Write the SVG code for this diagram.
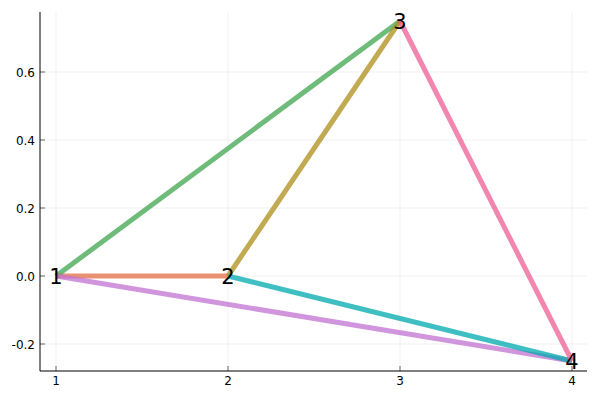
<svg xmlns="http://www.w3.org/2000/svg" width="600" height="400" viewBox="0 0 600 400">
<style>
.grid{stroke:#000;stroke-opacity:0.06;stroke-width:1}
.axis{stroke:#000;stroke-width:1;fill:none}
.tk{stroke:#000;stroke-opacity:0.6;stroke-width:1;fill:none}
.tick{font-family:"DejaVu Sans",sans-serif;font-size:12px;fill:#000}
.edge{stroke-width:5;stroke-opacity:0.75;fill:none}
.lbl{font-family:"DejaVu Sans",sans-serif;font-size:21px;fill:#000;text-anchor:middle;dominant-baseline:central}
</style>
<rect width="600" height="400" fill="#fff"/>
<g id="grid">
<line class="grid" x1="56" y1="12" x2="56" y2="371"/>
<line class="grid" x1="228" y1="12" x2="228" y2="371"/>
<line class="grid" x1="400" y1="12" x2="400" y2="371"/>
<line class="grid" x1="572" y1="12" x2="572" y2="371"/>
<line class="grid" x1="40" y1="344" x2="587" y2="344"/>
<line class="grid" x1="40" y1="276" x2="587" y2="276"/>
<line class="grid" x1="40" y1="208" x2="587" y2="208"/>
<line class="grid" x1="40" y1="140" x2="587" y2="140"/>
<line class="grid" x1="40" y1="72" x2="587" y2="72"/>
</g>
<g id="axes">
<path class="axis" d="M40 12 V371 H587"/>
<path class="tk" d="M56 371 v-5 M228 371 v-5 M400 371 v-5 M572 371 v-5 M40 344 h5 M40 276 h5 M40 208 h5 M40 140 h5 M40 72 h5"/>
<g class="tick" text-anchor="middle">
<text x="56" y="384.5">1</text>
<text x="228" y="384.5">2</text>
<text x="400" y="384.5">3</text>
<text x="572" y="384.5">4</text>
</g>
<g class="tick" text-anchor="end">
<text x="35" y="348.5">-0.2</text>
<text x="35" y="280.5">0.0</text>
<text x="35" y="212.5">0.2</text>
<text x="35" y="144.5">0.4</text>
<text x="35" y="76.5">0.6</text>
</g>
</g>
<g id="connectors">
<line class="edge" stroke="#e26f46" x1="56" y1="276" x2="228" y2="276"/>
<line class="edge" stroke="#3da44d" x1="56" y1="276" x2="400" y2="21"/>
<line class="edge" stroke="#c271d2" x1="56" y1="276" x2="572" y2="361"/>
<line class="edge" stroke="#ac8d18" x1="228" y1="276" x2="400" y2="21"/>
<line class="edge" stroke="#00a9ad" x1="228" y1="276" x2="572" y2="361"/>
<line class="edge" stroke="#ed5e93" x1="400" y1="21" x2="572" y2="361"/>
</g>
<g id="node1"><text class="lbl" x="56" y="277">1</text></g>
<g id="node2"><text class="lbl" x="228" y="277">2</text></g>
<g id="node3"><text class="lbl" x="400" y="22">3</text></g>
<g id="node4"><text class="lbl" x="572" y="362">4</text></g>
</svg>
